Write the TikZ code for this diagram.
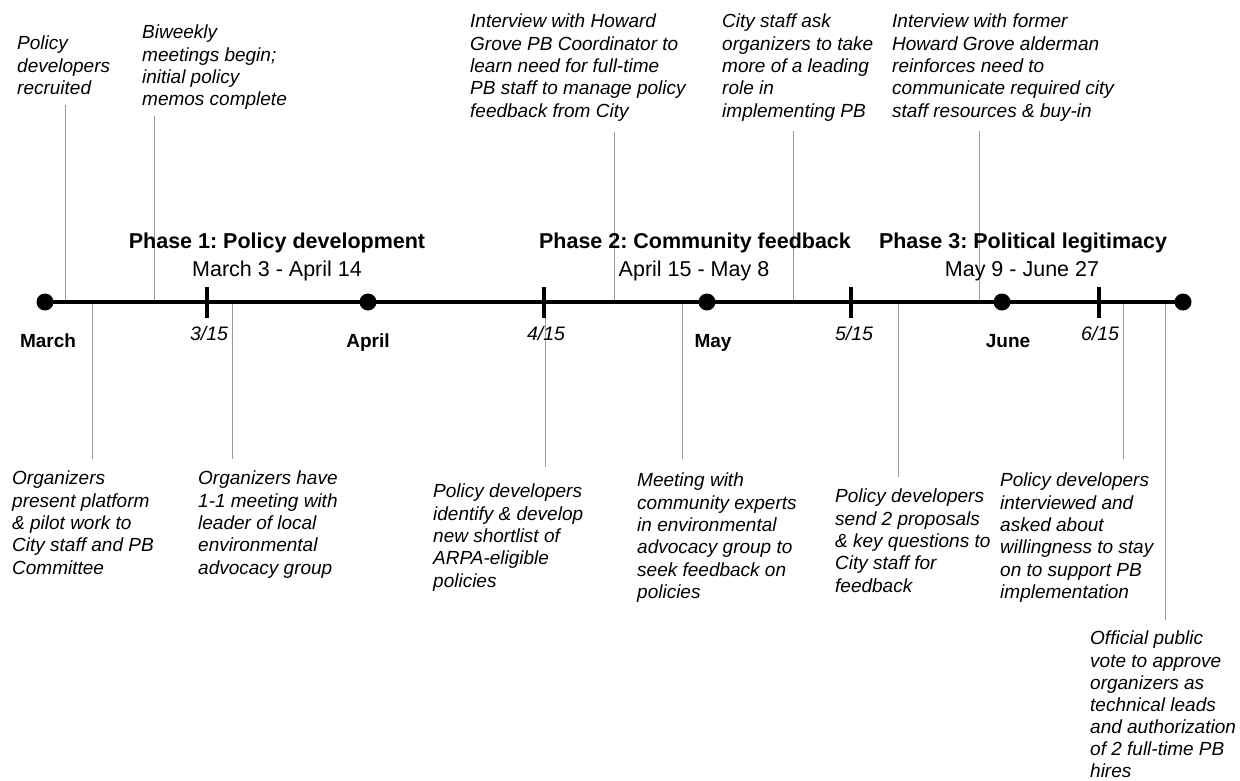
\documentclass[tikz,border=0pt]{standalone}
\usepackage{fontspec}
\setmainfont{Liberation Sans}
\frenchspacing
\begin{document}
\begin{tikzpicture}[x=1pt,y=-1pt,
  event/.style={anchor=north west, inner sep=0pt, align=left,
    font=\fontsize{19}{22.3}\selectfont\itshape},
  link/.style={draw=black!40, line width=1pt},
  axis/.style={line width=4pt},
  dot/.style={circle, fill=black, inner sep=0pt, minimum size=17pt},
  tickmark/.style={line width=3.5pt},
  month/.style={anchor=north, inner sep=0pt, font=\fontsize{19}{22}\selectfont\bfseries},
  datelab/.style={anchor=north, inner sep=0pt, font=\fontsize{19.5}{22}\selectfont\itshape},
  phase/.style={anchor=north, inner sep=0pt, font=\fontsize{21.5}{26}\selectfont\bfseries},
  span/.style={anchor=north, inner sep=0pt, font=\fontsize{21.5}{26}\selectfont}]

\useasboundingbox[fill=white] (0,0) rectangle (1240,780);

% ---------- positions on the time axis ----------
\coordinate (pMar) at (45,302);
\coordinate (pApr) at (368,302);
\coordinate (pMay) at (707,302);
\coordinate (pJun) at (1002,302);
\coordinate (pEnd) at (1183,302);

% ---------- event texts ----------
\node[event] (e1) at (17,36) {Policy\\developers\\recruited};
\node[event] (e2) at (142,25) {Biweekly\\meetings begin;\\initial policy\\memos complete};
\node[event] (e3) at (470,14) {Interview with Howard\\Grove PB Coordinator to\\learn need for full-time\\PB staff to manage policy\\feedback from City};
\node[event] (e4) at (722,14) {City staff ask\\organizers to take\\more of a leading\\role in\\implementing PB};
\node[event] (e5) at (892,14) {Interview with former\\Howard Grove alderman\\reinforces need to\\communicate required city\\staff resources \& buy-in};

\node[event] (e6) at (12,471) {Organizers\\present platform\\\& pilot work to\\City staff and PB\\Committee};
\node[event] (e7) at (198,471) {Organizers have\\1-1 meeting with\\leader of local\\environmental\\advocacy group};
\node[event] (e8) at (433,484) {Policy developers\\identify \& develop\\new shortlist of\\ARPA-eligible\\policies};
\node[event] (e9) at (637,473) {Meeting with\\community experts\\in environmental\\advocacy group to\\seek feedback on\\policies};
\node[event] (e10) at (835,489) {Policy developers\\send 2 proposals\\\& key questions to\\City staff for\\feedback};
\node[event] (e11) at (1000,473) {Policy developers\\interviewed and\\asked about\\willingness to stay\\on to support PB\\implementation};
\node[event, font=\fontsize{19}{22.1}\selectfont\itshape] (e12) at (1090,631) {Official public\\vote to approve\\organizers as\\technical leads\\and authorization\\of 2 full-time PB\\hires};

% ---------- connector end points ----------
\coordinate (t1) at (65,105);   \coordinate (a1) at (65,302);
\coordinate (t2) at (154,116);  \coordinate (a2) at (154,302);
\coordinate (t3) at (614,132);  \coordinate (a3) at (614,302);
\coordinate (t4) at (793,131);  \coordinate (a4) at (793,302);
\coordinate (t5) at (979,131);  \coordinate (a5) at (979,302);
\coordinate (t6) at (92,459);   \coordinate (a6) at (92,302);
\coordinate (t7) at (232,459);  \coordinate (a7) at (232,302);
\coordinate (t8) at (545,467);  \coordinate (a8) at (545,302);
\coordinate (t9) at (682,459);  \coordinate (a9) at (682,302);
\coordinate (t10) at (898,477); \coordinate (a10) at (898,302);
\coordinate (t11) at (1123,459);\coordinate (a11) at (1123,302);
\coordinate (t12) at (1165,620);\coordinate (a12) at (1165,302);

% ---------- connectors ----------
\foreach \i in {1,...,12} {
  \draw[link] (t\i) -- (a\i);
}

% ---------- time axis ----------
\draw[axis] (pMar) -- (pEnd);

\coordinate (k1) at (207,287);  \coordinate (k1b) at (207,318);
\coordinate (k2) at (544,287);  \coordinate (k2b) at (544,318);
\coordinate (k3) at (851,287);  \coordinate (k3b) at (851,318);
\coordinate (k4) at (1099,287); \coordinate (k4b) at (1099,318);
\foreach \i in {1,...,4} {
  \draw[tickmark] (k\i) -- (k\i b);
}

\node[dot] (dMar) at (pMar) {};
\node[dot] (dApr) at (pApr) {};
\node[dot] (dMay) at (pMay) {};
\node[dot] (dJun) at (pJun) {};
\node[dot] (dEnd) at (pEnd) {};

% ---------- axis labels ----------
\node[month] (lMar) at (48,334) {March};
\node[month] (lApr) at (368,334) {April};
\node[month] (lMay) at (713,334) {May};
\node[month] (lJun) at (1008,334) {June};

\node[datelab] (l315) at (209,326) {3/15};
\node[datelab] (l415) at (546,326) {4/15};
\node[datelab] (l515) at (854,326) {5/15};
\node[datelab] (l615) at (1100,326) {6/15};

% ---------- phases ----------
\node[phase] (ph1) at (277,233) {Phase 1: Policy development};
\node[span]  (sp1) at (277,261) {March 3 - April 14};
\node[phase] (ph2) at (695,233) {Phase 2: Community feedback};
\node[span]  (sp2) at (694,261) {April 15 - May 8};
\node[phase] (ph3) at (1023,233) {Phase 3: Political legitimacy};
\node[span]  (sp3) at (1022,261) {May 9 - June 27};

\end{tikzpicture}
\end{document}
